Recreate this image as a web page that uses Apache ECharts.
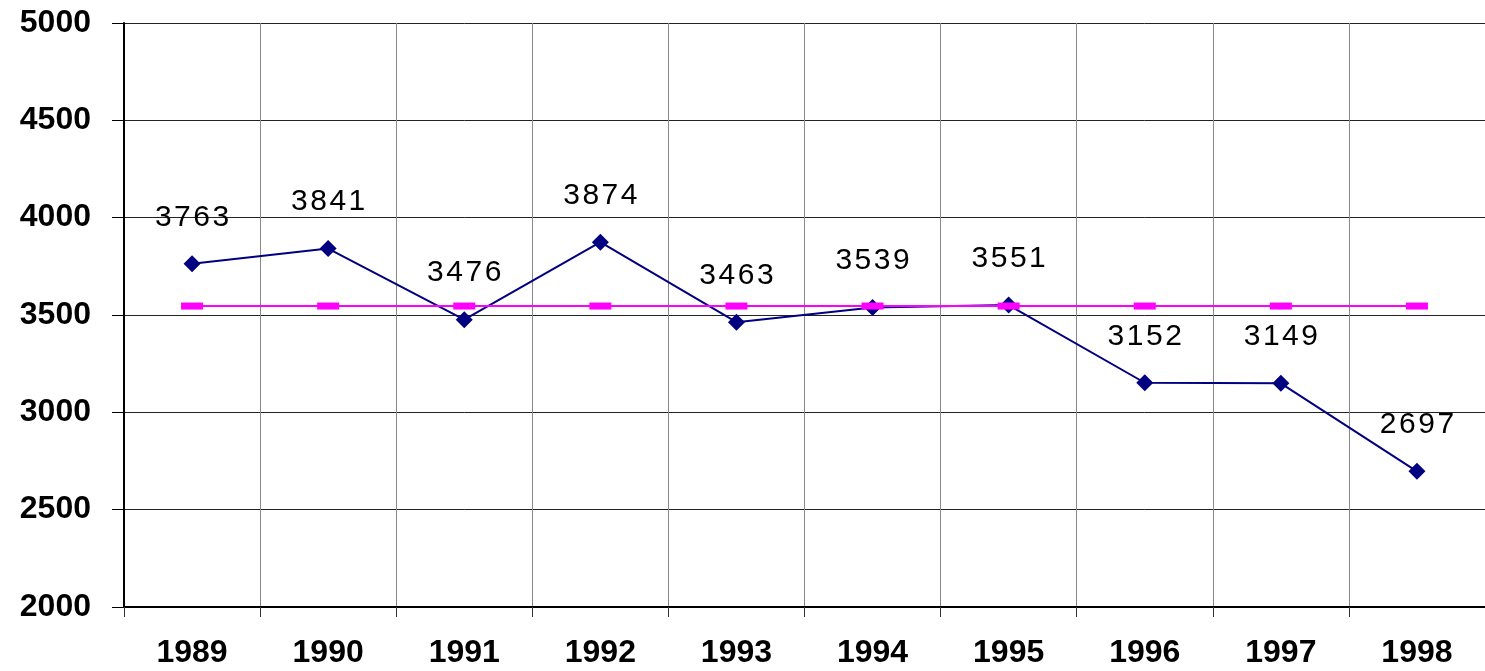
<!DOCTYPE html>
<html>
<head>
<meta charset="utf-8">
<script src="https://cdn.jsdelivr.net/npm/echarts@6/dist/echarts.min.js"></script>
<style>
  html, body { margin: 0; padding: 0; background: #fff; }
  #chart { width: 1485px; height: 671px; }
</style>
</head>
<body>
<div id="chart"></div>
<script>
// 年份
const years = ['1989', '1990', '1991', '1992', '1993', '1994', '1995', '1996', '1997', '1998']
// 各年数值
const values = [3763, 3841, 3476, 3874, 3463, 3539, 3551, 3152, 3149, 2697]
// 参考水平线
const levelValue = 3546
const level = years.map(() => levelValue)

// y 轴刻度
const yMin = 2000
const yMax = 5000
const yStep = 500

// 数字之间加细空格，模拟原图较宽的字距
const spaced = (s) => String(s).split('').join('\u200A')

const chart = echarts.init(document.getElementById('chart'))

chart.setOption({
  animation: false,
  backgroundColor: '#fff',
  grid: { left: 124, right: -6, top: 23, bottom: 64, containLabel: false },
  xAxis: {
    type: 'category',
    data: years,
    boundaryGap: true,
    axisLine: { lineStyle: { color: '#000', width: 2 } },
    axisTick: { show: true, length: 10, lineStyle: { color: '#333', width: 1 } },
    axisLabel: {
      color: '#000', fontFamily: 'Liberation Sans, Arial', fontWeight: 'bold', fontSize: 32, margin: 30
    },
    splitLine: { show: true, lineStyle: { color: '#888', width: 1 } }
  },
  yAxis: {
    type: 'value',
    min: yMin,
    max: yMax,
    interval: yStep,
    axisLine: { show: true, lineStyle: { color: '#000', width: 2 } },
    axisTick: { show: true, length: 12, lineStyle: { color: '#000', width: 1 } },
    axisLabel: {
      color: '#000', fontFamily: 'Liberation Sans, Arial', fontWeight: 'bold', fontSize: 32, margin: 33,
      formatter: (v) => String(v)
    },
    splitLine: { show: true, lineStyle: { color: '#222', width: 1 } }
  },
  series: [
    {
      // 参考线
      type: 'line',
      data: level,
      symbol: 'rect',
      symbolSize: [22, 7],
      itemStyle: { color: '#FF00FF' },
      lineStyle: { color: '#FF00FF', width: 2 },
      z: 3
    },
    {
      type: 'line',
      data: values,
      symbol: 'diamond',
      symbolSize: 17,
      itemStyle: { color: '#000080' },
      lineStyle: { color: '#000080', width: 2 },
      label: {
        show: true,
        position: 'top',
        distance: 23,
        color: '#000',
        fontFamily: 'Liberation Sans, Arial',
        fontSize: 30,
        formatter: (p) => spaced(p.value)
      },
      z: 2
    }
  ]
})
</script>
</body>
</html>
